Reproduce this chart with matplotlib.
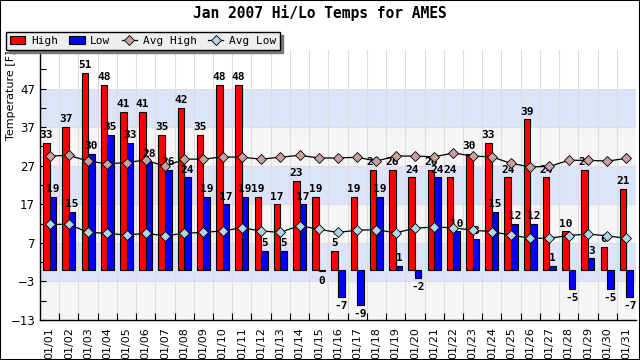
import matplotlib
matplotlib.use('Agg')
import matplotlib.pyplot as plt
from matplotlib.lines import Line2D
from matplotlib.patches import Patch, Rectangle

# Valeurs
days = ['01/%02d' % d for d in range(1, 32)]
high = [33, 37, 51, 48, 41, 41, 35, 42, 35, 48, 48, 19, 17, 23, 19, 5,
        19, 26, 26, 24, 26, 24, 30, 33, 24, 39, 24, 10, 26, 6, 21]
low = [19, 15, 30, 35, 33, 28, 26, 24, 19, 17, 19, 5, 5, 17, -0.4, -7,
       -9, 19, 1, -2, 24, 10, 8, 15, 12, 12, 1, -5, 3, -5, -7]
avg_high = [29.5, 29.7, 28.2, 27.5, 27.8, 28.5, 26.8, 28.7, 28.7, 29.3, 29.2,
            28.7, 29.2, 29.7, 29.0, 29.0, 29.2, 28.2, 29.5, 29.5, 29.3, 30.3,
            29.5, 29.3, 27.6, 26.7, 26.8, 28.4, 28.4, 28.2, 28.9]
avg_low = [11.8, 11.8, 9.7, 9.5, 9.0, 9.5, 8.8, 9.5, 9.7, 10.1, 10.9, 10.1,
           9.7, 11.5, 10.5, 9.7, 10.3, 10.4, 9.6, 10.8, 11.1, 10.9, 10.3, 9.9,
           9.0, 8.2, 8.2, 8.9, 9.3, 8.8, 8.2]
yticks = [-13, -3, 7, 17, 27, 37, 47]

mono = 'DejaVu Sans Mono'
fig = plt.figure(figsize=(6.4, 3.6), dpi=100)
fig.patches.append(Rectangle((0, 0), 1, 1, transform=fig.transFigure, fill=False,
                             edgecolor='black', linewidth=1.5, zorder=10))
ax = fig.add_axes([40 / 640, 40 / 360, 596 / 640, 270 / 360])

# bandes de fond
band_cols = ['#f5f5f5', '#dce4fa']
for i, y0 in enumerate(yticks[:-1]):
    ax.axhspan(y0, y0 + 10, color=band_cols[i % 2], zorder=0, lw=0)
for y in yticks:
    ax.axhline(y, color='#dddddd', lw=0.8, zorder=0.5)

x = list(range(len(days)))
w = 0.34
xh = [i - w / 2 for i in x]
xl = [i + w / 2 for i in x]
ax.bar(xh, high, w, color='#ff0000', edgecolor='black', linewidth=0.8, zorder=2)
ax.bar(xl, low, w, color='#0000ff', edgecolor='black', linewidth=0.8, zorder=2)

for xi, v in zip(xh, high):
    ax.annotate(str(int(round(v))), (xi, v), xytext=(0, 2), textcoords='offset points',
                ha='center', va='bottom', fontsize=8, family=mono, weight='bold', zorder=3)
for xi, v in zip(xl, low):
    if v >= 0:
        ax.annotate(str(int(round(v))), (xi, v), xytext=(0, 2), textcoords='offset points',
                    ha='center', va='bottom', fontsize=8, family=mono, weight='bold', zorder=3)
    else:
        ax.annotate(str(int(round(v))), (xi, v), xytext=(0, -3), textcoords='offset points',
                    ha='center', va='top', fontsize=8, family=mono, weight='bold', zorder=3)

ax.plot(x, avg_high, color='black', lw=0.9, marker='D', markersize=5.5,
        markerfacecolor='#c9a0a0', markeredgecolor='black', markeredgewidth=0.6, zorder=4)
ax.plot(x, avg_low, color='black', lw=0.9, marker='D', markersize=5.5,
        markerfacecolor='#add8e6', markeredgecolor='black', markeredgewidth=0.6, zorder=4)

ax.set_xlim(-0.5, len(days) - 0.5)
ax.set_ylim(-13, 57)
ax.set_xticks(x)
ax.set_xticklabels(days, rotation=90, fontsize=8)
ax.set_xticks([i + 0.5 for i in x[:-1]], minor=True)
ax.tick_params(axis='x', which='major', length=0, pad=5)
ax.tick_params(axis='x', which='minor', length=5, direction='in', width=0.8)
ax.grid(axis='x', which='minor', color='#dddddd', lw=0.8, zorder=0.5)
ax.set_yticks(yticks)
ax.set_yticks(list(range(-8, 57, 10)), minor=True)
ax.tick_params(axis='y', which='both', length=4, direction='in', width=0.8, labelsize=8.5)
ax.set_axisbelow(True)
for s in ['top', 'right']:
    ax.spines[s].set_visible(False)
for s in ['left', 'bottom']:
    ax.spines[s].set_linewidth(1)

fig.text(0.5, 1 - 13 / 360, 'Jan 2007 Hi/Lo Temps for AMES', ha='center', va='center',
         fontsize=10.5, family=mono, weight='bold')
fig.text(11 / 640, 1 - 140 / 360, 'Temperature [F]', rotation=90, ha='center', va='bottom',
         fontsize=8)

handles = [Patch(facecolor='#ff0000', edgecolor='black', lw=0.8),
           Patch(facecolor='#0000ff', edgecolor='black', lw=0.8),
           Line2D([], [], color='black', lw=0.9, marker='D', markersize=5.5,
                  markerfacecolor='#c9a0a0', markeredgecolor='black', markeredgewidth=0.6),
           Line2D([], [], color='black', lw=0.9, marker='D', markersize=5.5,
                  markerfacecolor='#add8e6', markeredgecolor='black', markeredgewidth=0.6)]
leg = fig.legend(handles, ['High', 'Low', 'Avg High', 'Avg Low'], ncol=4,
                 loc='upper left', bbox_to_anchor=(6 / 640, 1 - 32 / 360),
                 borderaxespad=0, fancybox=False, shadow={'color': '#777777', 'alpha': 1},
                 edgecolor='black', facecolor='#eeeeee', framealpha=1,
                 prop={'family': mono, 'size': 8}, handlelength=1.4, handletextpad=0.5,
                 columnspacing=1.0, borderpad=0.35)
leg.get_frame().set_linewidth(1)

fig.savefig('out.png', dpi=100)
